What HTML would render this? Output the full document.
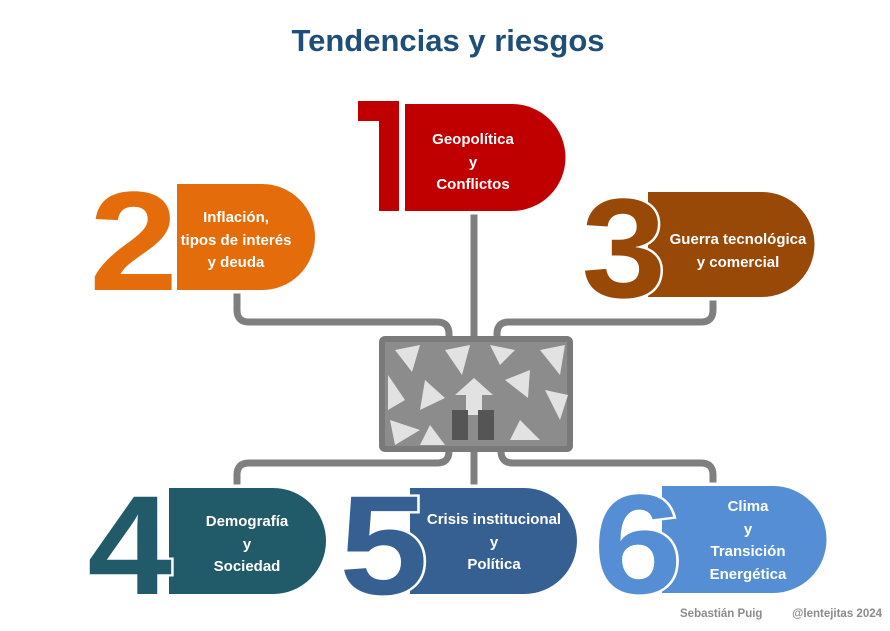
<!DOCTYPE html>
<html><head><meta charset="utf-8"><style>
body{margin:0;background:#fff;}
svg text{font-family:"Liberation Sans",sans-serif;font-weight:bold;}
</style></head><body>
<svg width="890" height="626" viewBox="0 0 890 626" xmlns="http://www.w3.org/2000/svg">
<text x="448" y="51" text-anchor="middle" font-size="31" fill="#1f4e79">Tendencias y riesgos</text>
<g fill="none" stroke="#7f7f7f" stroke-width="7" stroke-linejoin="round">
<path d="M474 205 V340"/>
<path d="M237 285 V310 q0 12 12 12 H437 q12 0 12 12 V340"/>
<path d="M713 290 V310 q0 12 -12 12 H509 q-12 0 -12 12 V340"/>
<path d="M449 448 V451 q0 12 -12 12 H249 q-12 0 -12 12 V492"/>
<path d="M474 448 V492"/>
<path d="M501 448 V451 q0 12 12 12 H701 q12 0 12 12 V492"/>
</g>
<rect x="382" y="339" width="188" height="110" rx="3" fill="#8c8c8c" stroke="#7a7a7a" stroke-width="6"/>
<g fill="#e2e2e2">
<polygon points="455,395 474,378 493,395 482,395 482,415 466,415 466,395"/>
<polygon points="395,350 420,345 412,372"/>
<polygon points="445,350 470,345 462,375"/>
<polygon points="490,345 515,350 500,365"/>
<polygon points="505,380 530,370 528,398"/>
<polygon points="540,350 565,345 560,375"/>
<polygon points="388,375 405,400 388,410"/>
<polygon points="425,380 445,398 420,410"/>
<polygon points="390,420 420,430 395,445"/>
<polygon points="430,425 445,445 420,445"/>
<polygon points="520,420 540,440 510,440"/>
<polygon points="545,390 568,395 560,420"/>
</g>
<rect x="452" y="410" width="16" height="30" fill="#555"/><rect x="478" y="410" width="16" height="30" fill="#555"/>
<g stroke="#fff" stroke-width="7" paint-order="stroke">
<path d="M405 104 H512 a53 53 0 0 1 0 107 H405 Z" fill="#c00000"/>
<path d="M177 184 H262 a53 53 0 0 1 0 106 H177 Z" fill="#e46c0a"/>
<path d="M648 192 H762 a52.5 52.5 0 0 1 0 105 H648 Z" fill="#984807"/>
<path d="M169 488 H273 a53 53 0 0 1 0 106 H169 Z" fill="#215a68"/>
<path d="M410 488 H524 a53 53 0 0 1 0 106 H410 Z" fill="#376092"/>
<path d="M662 486 H773 a53.5 53.5 0 0 1 0 107 H662 Z" fill="#558ed5"/>
</g>
<path d="M358 101 H399 V211 H379 V121 H358 Z" fill="#c00000"/>
<g font-size="152" stroke="#fff" stroke-width="5" paint-order="stroke" text-anchor="end">
<text transform="translate(178 290) scale(1.05 0.93)" fill="#e46c0a">2</text>
<text transform="translate(666 297) scale(1.0 0.93)" fill="#984807">3</text>
<text transform="translate(172 594) scale(1.0 0.93)" fill="#215a68">4</text>
<text transform="translate(428 594) scale(1.05 0.93)" fill="#376092">5</text>
<text transform="translate(682 593) scale(1.05 0.93)" fill="#558ed5">6</text>
</g>
<g fill="#fff" font-size="15" text-anchor="middle">
<text x="473" y="144">Geopolítica</text><text x="473" y="167">y</text><text x="473" y="189">Conflictos</text>
<text x="236" y="222">Inflación,</text><text x="236" y="245">tipos de interés</text><text x="236" y="267">y deuda</text>
<text x="738" y="244">Guerra tecnológica</text><text x="738" y="267">y comercial</text>
<text x="247" y="526">Demografía</text><text x="247" y="549">y</text><text x="247" y="571">Sociedad</text>
<text x="494" y="524">Crisis institucional</text><text x="494" y="547">y</text><text x="494" y="569">Política</text>
<text x="748" y="511">Clima</text><text x="748" y="534">y</text><text x="748" y="556">Transición</text><text x="748" y="579">Energética</text>
</g>
<text x="680" y="617" font-size="11.5" fill="#8c8c8c">Sebastián Puig</text>
<text x="882" y="617" text-anchor="end" font-size="11.5" fill="#8c8c8c">@lentejitas 2024</text>
</svg>
</body></html>
